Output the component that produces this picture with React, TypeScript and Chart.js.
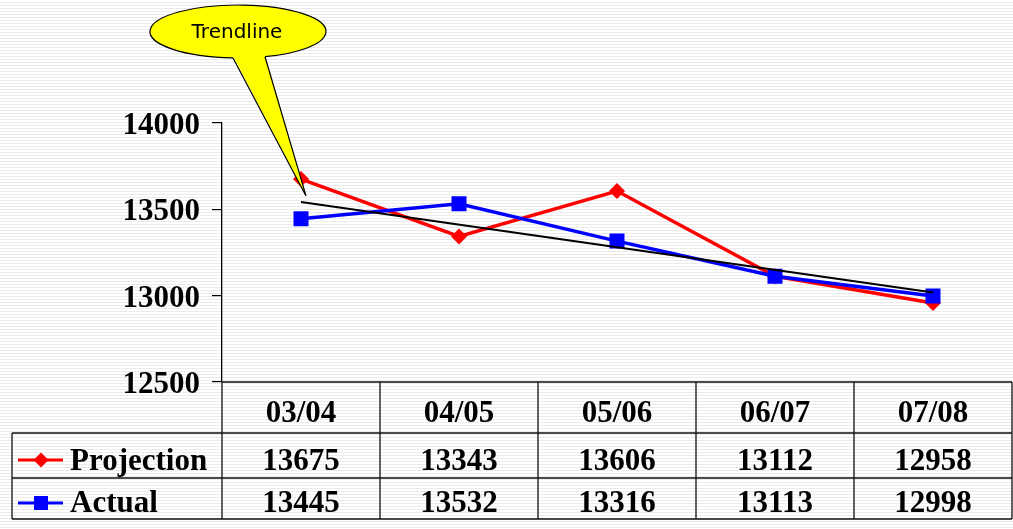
import React, { useEffect, useRef } from "react";
import { Chart, registerables } from "chart.js";

Chart.register(...registerables);

const categories = ["03/04", "04/05", "05/06", "06/07", "07/08"];
const projection = [13675, 13343, 13606, 13112, 12958];
const actual = [13445, 13532, 13316, 13113, 12998];
// trendline end values (first and last category)
const trendline = [13543, null, null, null, 13018];
const yTicks = [12500, 13000, 13500, 14000];
const seriesNames = ["Projection", "Actual"];
const calloutText = "Trendline";

const W = 1013;
const H = 529;
const SERIF = "bold 31px 'Liberation Serif', 'Times New Roman', serif";

const paintPlugin = {
  id: "paint",
  beforeDraw(chart: any) {
    const ctx = chart.ctx;
    ctx.save();
    ctx.fillStyle = "#ffffff";
    ctx.fillRect(0, 0, W, H);
    ctx.fillStyle = "#ebebeb";
    for (let y = 2; y < H; y += 3) ctx.fillRect(0, y, W, 1);
    ctx.restore();
  },
  afterDraw(chart: any) {
    const ctx = chart.ctx;
    const area = chart.chartArea;
    const xs = chart.scales.x;
    const ys = chart.scales.y;
    const left = area.left;
    const right = area.right;
    const colW = (right - left) / categories.length;
    const top = area.bottom;
    const r1 = top + 51;
    const r2 = r1 + 45;
    const r3 = r2 + 41;
    const tableLeft = 12;

    ctx.save();
    // table lines
    ctx.strokeStyle = "#111";
    ctx.lineWidth = 1.3;
    ctx.beginPath();
    ctx.moveTo(left, top);
    ctx.lineTo(right, top);
    [r1, r2, r3].forEach((y) => {
      ctx.moveTo(tableLeft, y);
      ctx.lineTo(right, y);
    });
    ctx.moveTo(tableLeft, r1);
    ctx.lineTo(tableLeft, r3);
    for (let i = 0; i <= categories.length; i++) {
      const x = left + i * colW;
      ctx.moveTo(x, top);
      ctx.lineTo(x, r3);
    }
    ctx.stroke();

    // texts
    ctx.fillStyle = "#000";
    ctx.font = SERIF;
    ctx.textAlign = "center";
    ctx.textBaseline = "alphabetic";
    categories.forEach((c, i) => {
      const x = xs.getPixelForValue(i);
      ctx.fillText(c, x, top + 40);
      ctx.fillText(String(projection[i]), x, r1 + 37);
      ctx.fillText(String(actual[i]), x, r2 + 34);
    });
    ctx.textAlign = "left";
    ctx.fillText(seriesNames[0], 70, r1 + 37);
    ctx.fillText(seriesNames[1], 70, r2 + 34);

    // legend keys
    const keyY1 = r1 + 27;
    const keyY2 = r2 + 25;
    ctx.lineWidth = 3;
    ctx.strokeStyle = "#ff0000";
    ctx.beginPath();
    ctx.moveTo(18, keyY1);
    ctx.lineTo(63, keyY1);
    ctx.stroke();
    ctx.fillStyle = "#ff0000";
    ctx.beginPath();
    ctx.moveTo(41 - 7.5, keyY1);
    ctx.lineTo(41, keyY1 - 7.5);
    ctx.lineTo(41 + 7.5, keyY1);
    ctx.lineTo(41, keyY1 + 7.5);
    ctx.closePath();
    ctx.fill();
    ctx.strokeStyle = "#0000ff";
    ctx.beginPath();
    ctx.moveTo(18, keyY2);
    ctx.lineTo(63, keyY2);
    ctx.stroke();
    ctx.fillStyle = "#0000ff";
    ctx.fillRect(41 - 7, keyY2 - 7, 14, 14);

    // callout
    const cx = 238;
    const cy = 31.5;
    const rx = 88;
    const ry = 26.5;
    const bx1 = 233;
    const bx2 = 265;
    const t1 = Math.acos((bx1 - cx) / rx);
    const t2 = Math.acos((bx2 - cx) / rx);
    const by1 = cy + ry * Math.sin(t1);
    const by2 = cy + ry * Math.sin(t2);
    const tipX = xs.getPixelForValue(0) + 5;
    const tipY = ys.getPixelForValue(trendline[0] as number) - 6;
    ctx.fillStyle = "#ffff00";
    ctx.beginPath();
    ctx.ellipse(cx, cy, rx, ry, 0, 0, Math.PI * 2);
    ctx.fill();
    ctx.beginPath();
    ctx.moveTo(bx1, by1 - 2);
    ctx.lineTo(tipX, tipY);
    ctx.lineTo(bx2, by2 - 2);
    ctx.closePath();
    ctx.fill();
    ctx.strokeStyle = "#000";
    ctx.lineWidth = 1.2;
    ctx.beginPath();
    ctx.ellipse(cx, cy, rx, ry, 0, t1, t2 + Math.PI * 2);
    ctx.stroke();
    ctx.beginPath();
    ctx.moveTo(bx1, by1);
    ctx.lineTo(tipX, tipY);
    ctx.lineTo(bx2, by2);
    ctx.stroke();
    ctx.fillStyle = "#000";
    ctx.font = "20px 'DejaVu Sans', sans-serif";
    ctx.textAlign = "center";
    ctx.textBaseline = "alphabetic";
    ctx.fillText(calloutText, cx - 1, cy + 6);
    ctx.restore();
  },
};

export default function App() {
  const ref = useRef<HTMLCanvasElement | null>(null);
  useEffect(() => {
    document.body.style.margin = "0";
    const canvas = ref.current;
    if (!canvas) return;
    const chart = new Chart(canvas, {
      type: "line",
      data: {
        labels: categories,
        datasets: [
          {
            label: "Trendline",
            data: trendline,
            spanGaps: true,
            borderColor: "#000000",
            borderWidth: 2,
            pointRadius: 0,
            order: 0,
          },
          {
            label: seriesNames[1],
            data: actual,
            borderColor: "#0000ff",
            backgroundColor: "#0000ff",
            borderWidth: 3.5,
            pointStyle: "rect",
            pointRadius: 10.6,
            pointBackgroundColor: "#0000ff",
            pointBorderColor: "#0000ff",
            pointBorderWidth: 0,
            order: 1,
          },
          {
            label: seriesNames[0],
            data: projection,
            borderColor: "#ff0000",
            backgroundColor: "#ff0000",
            borderWidth: 3.5,
            pointStyle: "rectRot",
            pointRadius: 8,
            pointBackgroundColor: "#ff0000",
            pointBorderColor: "#ff0000",
            pointBorderWidth: 0,
            order: 2,
          },
        ],
      },
      options: {
        animation: false,
        responsive: false,
        maintainAspectRatio: false,
        devicePixelRatio: 1,
        events: [],
        layout: { autoPadding: false, padding: { left: 0, right: 1, top: 123, bottom: 147 } },
        plugins: {
          legend: { display: false },
          tooltip: { enabled: false },
          title: { display: false },
        },
        scales: {
          x: {
            type: "category",
            offset: true,
            display: false,
          },
          y: {
            min: 12500,
            max: 14000,
            afterBuildTicks: (scale: any) => {
              scale.ticks = yTicks.map((v) => ({ value: v }));
            },
            afterFit: (scale: any) => {
              scale.width = 222;
            },
            ticks: {
              color: "#000",
              font: { family: "'Liberation Serif', 'Times New Roman', serif", size: 31, weight: "bold" },
              padding: 12,
              labelOffset: 3,
              callback: (v: any) => String(v),
            },
            grid: {
              drawOnChartArea: false,
              tickLength: 10,
              color: "#000",
              lineWidth: 1.2,
            },
            border: { display: true, color: "#000", width: 1.3 },
          },
        },
      },
      plugins: [paintPlugin],
    } as any);
    return () => chart.destroy();
  }, []);
  return (
    <div style={{ width: W, height: H }}>
      <canvas ref={ref} width={W} height={H} style={{ display: "block", width: W, height: H }} />
    </div>
  );
}
